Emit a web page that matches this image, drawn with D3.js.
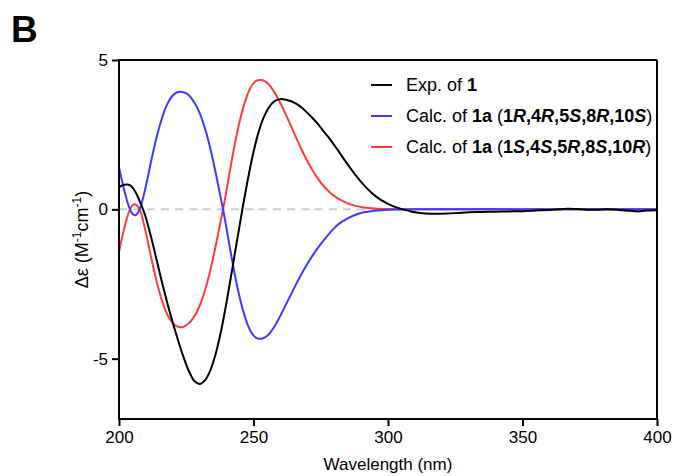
<!DOCTYPE html>
<html>
<head>
<meta charset="utf-8">
<script src="https://cdn.jsdelivr.net/npm/d3@7"></script>
<style>
  html, body { margin: 0; padding: 0; background: #fff; }
  svg { display: block; font-family: "Liberation Sans", Arial, sans-serif; }
</style>
</head>
<body>
<svg id="chart" width="674" height="476"></svg>
<script>
// ---- data ----
const xTicks = [200, 250, 300, 350, 400];
const yTicks = [5, 0, -5];

const expWl  = [200,201,202,203,204,205,206,207,208,209,210,212,214,216,218,220,222,224,226,228,230,232,234,236,238,240,242,244,246,248,250,252,254,256,258,260,262,264,266,268,270,272,274,276,278,280,282,284,286,288,290,292,294,296,298,300,302,304,306,308,310,314,318,322,326,330,335,340,345,350,355,360,364,367,370,374,378,382,386,390,393,396,400];
const expVal = [0.74,0.79,0.82,0.83,0.81,0.73,0.6,0.42,0.21,-0.02,-0.28,-0.95,-1.7,-2.45,-3.15,-3.8,-4.4,-4.95,-5.42,-5.75,-5.85,-5.72,-5.38,-4.82,-4.05,-3.1,-2.05,-0.98,0.07,1.05,1.92,2.62,3.12,3.45,3.63,3.69,3.67,3.62,3.53,3.4,3.23,3.05,2.85,2.62,2.4,2.15,1.9,1.63,1.38,1.14,0.92,0.72,0.55,0.4,0.28,0.18,0.1,0.04,-0.01,-0.06,-0.1,-0.14,-0.15,-0.14,-0.12,-0.1,-0.09,-0.08,-0.07,-0.06,-0.04,-0.02,0.0,0.02,0.01,-0.01,-0.01,0.0,-0.02,-0.05,-0.07,-0.04,-0.03];

const calcWl = [200,201,202,203,204,205,206,207,208,209,210,211,212,213,214,215,216,217,218,219,220,221,222,223,224,225,226,227,228,229,230,231,232,233,234,235,236,237,238,239,240,241,242,243,244,245,246,247,248,249,250,251,252,253,254,255,256,257,258,259,260,262,264,266,268,270,272,274,276,278,280,282,285,288,291,295,300,305,310,350,400];
const calcRS = [1.42,1.0,0.62,0.28,0.02,-0.15,-0.2,-0.12,0.08,0.4,0.78,1.2,1.63,2.04,2.42,2.76,3.06,3.32,3.53,3.69,3.81,3.89,3.93,3.94,3.92,3.88,3.81,3.71,3.58,3.42,3.22,2.98,2.7,2.38,2.02,1.62,1.2,0.75,0.3,-0.15,-0.65,-1.17,-1.68,-2.16,-2.6,-3.0,-3.35,-3.65,-3.9,-4.09,-4.22,-4.3,-4.33,-4.33,-4.3,-4.24,-4.15,-4.03,-3.89,-3.73,-3.56,-3.2,-2.84,-2.48,-2.14,-1.83,-1.54,-1.28,-1.05,-0.83,-0.63,-0.47,-0.3,-0.18,-0.1,-0.05,-0.015,-0.005,0,0,0];
const calcSR = [-1.43,-1.0,-0.62,-0.28,-0.02,0.13,0.17,0.1,-0.08,-0.4,-0.78,-1.2,-1.63,-2.04,-2.42,-2.76,-3.06,-3.32,-3.53,-3.69,-3.81,-3.89,-3.93,-3.95,-3.93,-3.88,-3.81,-3.71,-3.58,-3.42,-3.22,-2.98,-2.7,-2.38,-2.02,-1.62,-1.2,-0.75,-0.3,0.15,0.65,1.17,1.68,2.16,2.6,3.0,3.35,3.65,3.9,4.09,4.22,4.3,4.33,4.33,4.3,4.24,4.15,4.03,3.89,3.73,3.56,3.18,2.78,2.37,1.98,1.62,1.3,1.02,0.79,0.6,0.45,0.33,0.2,0.115,0.065,0.03,0.01,0.003,0,0,0];

// ---- layout ----
const svg = d3.select("#chart");
const L = 119, R = 657, T = 60, B = 419;
const x = d3.scaleLinear().domain([200, 400]).range([L, R]);
const y = d3.scaleLinear().domain([-7.02, 5]).range([B, T]);
const FS = 17;

// panel letter
svg.append("text").attr("x", 11).attr("y", 42)
  .attr("font-size", 37).attr("font-weight", "bold").attr("fill", "#000").text("B");

// zero dashed line
svg.append("line")
  .attr("x1", x(200)).attr("x2", x(400)).attr("y1", y(0)).attr("y2", y(0))
  .attr("stroke", "#cfcfcf").attr("stroke-width", 2).attr("stroke-dasharray", "8,6");

// curves
const line = d3.line().x(d => x(d[0])).y(d => y(d[1])).curve(d3.curveCatmullRom.alpha(0.5));
const series = [
  { name: "red",   wl: calcWl, v: calcSR, color: "#ff3b3b" },
  { name: "blue",  wl: calcWl, v: calcRS, color: "#3b3bff" },
  { name: "black", wl: expWl,  v: expVal, color: "#000000" }
];
series.forEach(s => {
  svg.append("path")
    .datum(s.wl.map((w, i) => [w, s.v[i]]))
    .attr("fill", "none").attr("stroke", s.color).attr("stroke-width", 2)
    .attr("stroke-linejoin", "round").attr("d", line);
});

// frame top & right
svg.append("line").attr("x1", L).attr("x2", R).attr("y1", T).attr("y2", T)
  .attr("stroke", "#000").attr("stroke-width", 2);
svg.append("line").attr("x1", R).attr("x2", R).attr("y1", T).attr("y2", B)
  .attr("stroke", "#000").attr("stroke-width", 2);

// axes
const xAxis = svg.append("g").attr("transform", `translate(0,${B})`)
  .call(d3.axisBottom(x).tickValues(xTicks).tickSize(7).tickPadding(5).tickSizeOuter(0));
const yAxis = svg.append("g").attr("transform", `translate(${L},0)`)
  .call(d3.axisLeft(y).tickValues(yTicks).tickSize(7).tickPadding(4).tickSizeOuter(0)
        .tickFormat(d => d < 0 ? "-" + Math.abs(d) : d));
[xAxis, yAxis].forEach(a => {
  a.select(".domain").attr("stroke", "#000").attr("stroke-width", 2);
  a.selectAll(".tick line").attr("stroke", "#000").attr("stroke-width", 2);
  a.selectAll(".tick text").attr("font-size", FS).attr("fill", "#000")
    .attr("font-family", "'Liberation Sans', Arial, sans-serif");
});
xAxis.select(".domain").attr("d", `M${L - 1},0H${R + 1}`);
yAxis.select(".domain").attr("d", `M0,${T - 1}V${B + 1}`);

// axis titles
svg.append("text").attr("x", (L + R) / 2).attr("y", 470)
  .attr("text-anchor", "middle").attr("font-size", FS).attr("fill", "#000")
  .text("Wavelength (nm)");

const yt = svg.append("text")
  .attr("transform", `translate(88,${(T + B) / 2}) rotate(-90)`)
  .attr("text-anchor", "middle").attr("font-size", 18).attr("fill", "#000");
yt.append("tspan").text("\u0394\u03B5 (M");
yt.append("tspan").attr("dy", -7).attr("font-size", 12).text("-1");
yt.append("tspan").attr("dy", 7).text("cm");
yt.append("tspan").attr("dy", -7).attr("font-size", 12).text("-1");
yt.append("tspan").attr("dy", 7).text(")");

// legend
const legend = [
  { color: "#000000", parts: [["Exp. of ", ""], ["1", "b"]] },
  { color: "#3b3bff", parts: [["Calc. of ", ""], ["1a", "b"], [" (", ""], ["1", "b"], ["R", "bi"], [",", "b"], ["4", "b"], ["R", "bi"], [",", "b"], ["5", "b"], ["S", "bi"], [",", "b"], ["8", "b"], ["R", "bi"], [",", "b"], ["10", "b"], ["S", "bi"], [")", ""]] },
  { color: "#ff3b3b", parts: [["Calc. of ", ""], ["1a", "b"], [" (", ""], ["1", "b"], ["S", "bi"], [",", "b"], ["4", "b"], ["S", "bi"], [",", "b"], ["5", "b"], ["R", "bi"], [",", "b"], ["8", "b"], ["S", "bi"], [",", "b"], ["10", "b"], ["R", "bi"], [")", ""]] }
];
const legY = [85, 116, 147];
legend.forEach((it, i) => {
  svg.append("line").attr("x1", 371).attr("x2", 392).attr("y1", legY[i]).attr("y2", legY[i])
    .attr("stroke", it.color).attr("stroke-width", 2);
  const t = svg.append("text").attr("x", 406).attr("y", legY[i] + 6)
    .attr("font-size", 18).attr("fill", "#000");
  it.parts.forEach(p => {
    const ts = t.append("tspan").text(p[0]);
    if (p[1].includes("b")) ts.attr("font-weight", "bold");
    if (p[1].includes("i")) ts.attr("font-style", "italic");
  });
});
</script>
</body>
</html>
